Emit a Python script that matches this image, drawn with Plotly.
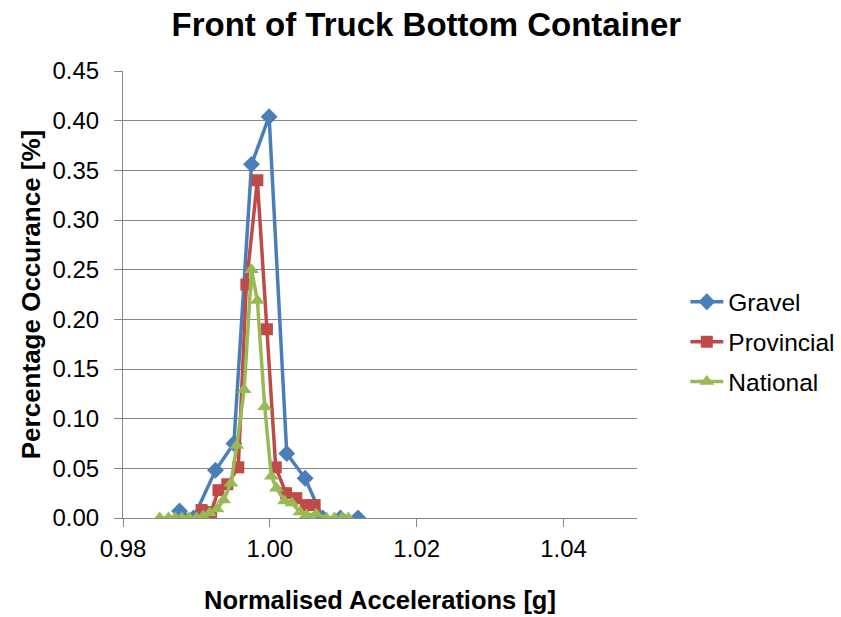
import plotly.graph_objects as go

gravel_x = [0.9877, 0.9896, 0.9926, 0.9951, 0.9975, 0.9999, 1.0023, 1.0048, 1.0072, 1.0096, 1.0120]
gravel_y = [0.007, 0.000, 0.048, 0.075, 0.356, 0.404, 0.065, 0.040, 0.000, 0.000, 0.000]

prov_x = [0.9907, 0.9920, 0.9930, 0.9942, 0.9957, 0.9968, 0.9983, 0.9996, 1.0008, 1.0022, 1.0036, 1.0049, 1.0061]
prov_y = [0.008, 0.006, 0.028, 0.034, 0.051, 0.235, 0.340, 0.190, 0.051, 0.025, 0.020, 0.013, 0.013]

nat_x = [0.9850, 0.9862, 0.9871, 0.9880, 0.9890, 0.9900, 0.9909, 0.9918, 0.9928, 0.9937, 0.9947,
         0.9955, 0.9965, 0.9975, 0.9983, 0.9993, 1.0002, 1.0009, 1.0020, 1.0030, 1.0041, 1.0050,
         1.0063, 1.0077, 1.0088, 1.0098, 1.0107]
nat_y = [0.000, 0.000, 0.000, 0.000, 0.000, 0.000, 0.002, 0.005, 0.009, 0.018, 0.035,
         0.073, 0.129, 0.250, 0.219, 0.112, 0.042, 0.030, 0.017, 0.015, 0.006, 0.003,
         0.004, 0.000, 0.000, 0.000, 0.000]

x_ticks = [0.98, 1.00, 1.02, 1.04]

fig = go.Figure()
fig.add_trace(go.Scatter(x=gravel_x, y=gravel_y, mode="lines+markers", name="Gravel",
                         legendgroup="g",
                         line=dict(color="#4A7EBB", width=3.5),
                         marker=dict(symbol="diamond", size=13, color="#4A7EBB")))
fig.add_trace(go.Scatter(x=prov_x, y=prov_y, mode="lines+markers", name="Provincial",
                         legendgroup="p",
                         line=dict(color="#BE4B48", width=3.5),
                         marker=dict(symbol="square", size=12, color="#BE4B48")))
fig.add_trace(go.Scatter(x=nat_x, y=nat_y, mode="lines+markers", name="National",
                         legendgroup="n",
                         line=dict(color="#98B954", width=3.5),
                         marker=dict(symbol="triangle-up", size=13, color="#98B954")))

fig.update_layout(
    width=841, height=617,
    margin=dict(l=123, r=204, t=71, b=99, autoexpand=False),
    paper_bgcolor="white", plot_bgcolor="white",
    font=dict(family="Liberation Sans, Arial, sans-serif", color="black"),
    title=dict(text="<b>Front of Truck Bottom Container</b>", x=0.507, xanchor="center",
               y=0.96, yanchor="middle", font=dict(size=33)),
    legend=dict(x=1.094, xanchor="left", y=0.394, yanchor="middle",
                font=dict(size=24.5), tracegroupgap=5, itemwidth=33,
                bgcolor="rgba(0,0,0,0)"),
    xaxis=dict(range=[0.98, 1.05], tickvals=x_ticks, tickformat=".2f",
               showgrid=False, zeroline=False, showline=True, linecolor="#868686",
               ticks="outside", ticklen=8, tickcolor="#868686",
               tickfont=dict(size=24), ticklabelstandoff=1, automargin=False,
               title=dict(text="<b>Normalised Accelerations [g]</b>", font=dict(size=25.5),
                          standoff=30)),
    yaxis=dict(range=[0, 0.45], dtick=0.05, tickformat=".2f",
               showgrid=True, gridcolor="#868686", gridwidth=1, zeroline=False,
               showline=True, linecolor="#868686", ticks="outside", ticklen=8,
               tickcolor="#868686", tickfont=dict(size=24), ticklabelstandoff=10,
               automargin=False,
               title=dict(text="<b>Percentage Occurance [%]</b>", font=dict(size=26),
                          standoff=4)),
)

fig.write_html("out.html", config={"displayModeBar": False},
               post_script="document.body.style.margin='0';")
